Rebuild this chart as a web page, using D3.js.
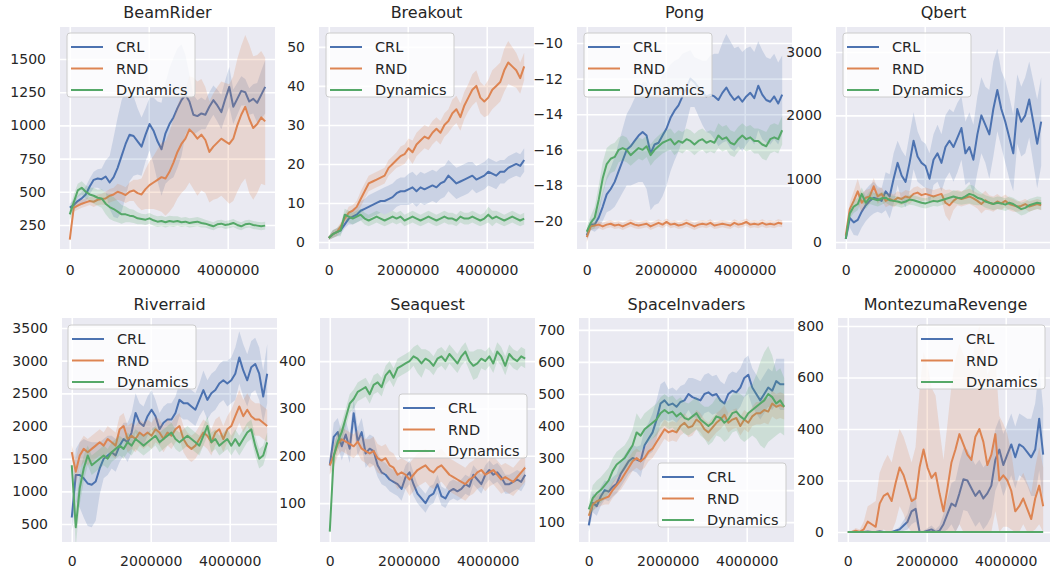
<!DOCTYPE html>
<html>
<head>
<meta charset="utf-8">
<script src="https://cdn.jsdelivr.net/npm/d3@7"></script>
<style>
  body { margin: 0; background: #fff; }
  svg { display: block; font-family: 'DejaVu Sans', sans-serif; }
</style>
</head>
<body>
<div id="chart"></div>
<script>
// series + seaborn "deep" colours
const seriesNames = ['CRL', 'RND', 'Dynamics'];
const colors = { CRL: '#4c72b0', RND: '#dd8452', Dynamics: '#55a868' };

// logged every ~101k env steps, 50 points per run
const stepSize = 101000;
const xTicks = [0, 2000000, 4000000];

// BeamRider
const beamRiderCRL = [380,400,430,450,480,540,590,600,595,615, 570,610,680,770,860,930,920,880,840,930, 1010,960,880,820,940,1010,1060,1130,1190,1230, 1180,1080,1070,1090,1080,1140,1190,1150,1100,1200, 1290,1140,1200,1260,1250,1180,1200,1170,1230,1290];
const beamRiderCRLSd = [30,40,40,50,60,60,60,70,80,120, 200,300,380,420,400,350,300,250,220,200, 200,250,300,350,380,420,450,450,420,300, 200,150,120,120,110,110,110,120,130,140, 150,130,120,110,100,100,110,150,180,200];
const beamRiderRND = [140,380,395,410,420,430,425,440,445,450, 470,480,500,490,475,500,510,490,480,520, 550,570,590,610,600,650,720,800,860,900, 970,940,900,930,890,800,840,870,900,880, 860,900,1000,1080,1140,1050,980,1010,1060,1030];
const beamRiderRNDSd = [10,30,30,30,30,30,40,40,40,50, 50,50,60,60,60,70,80,100,120,150, 180,200,230,260,280,300,330,350,370,380, 400,420,430,420,400,380,400,420,430,440, 450,470,500,520,540,560,540,520,500,480];
const beamRiderDyn = [330,420,510,530,500,480,470,455,450,410, 385,370,350,330,330,320,315,300,295,290, 300,285,275,280,270,280,275,280,270,275, 265,270,275,265,260,250,240,255,260,250, 255,265,250,240,255,260,250,245,240,245];
const beamRiderDynSd = [40,60,50,50,50,50,60,60,70,80, 90,90,80,70,60,50,50,45,40,40, 40,40,40,40,40,40,40,35,35,35, 35,35,35,35,30,30,30,30,30,30, 30,30,30,30,30,30,30,30,30,30];

// Breakout
const breakoutCRL = [1,2,2.5,3,4.5,6,6.5,7,8,8.5, 9,9.5,10,10.5,10.5,11,11.5,12.5,13,13, 13.5,14,13,14,13.5,14,14.5,14,15,15.5, 17,16,15,15.5,16,16.5,17,16,16.5,17, 18,17.5,17,18,18,19,19.5,20,19.5,21];
const breakoutCRLSd = [0.5,1,1,1,1,1.5,2,2,2.5,2.5, 3,3,3,3,3.5,3.5,3.5,3.5,3.5,3.5, 4,4,4,4,4,4,4,4,4,4, 4,4,4,4,4,4,3.5,3.5,3.5,3.5, 3.5,3.5,3.5,3,3,3,3,3,3,3];
const breakoutRND = [1,2,2.5,4,6,7.5,8,9,11,13, 15,15.5,16,16.5,17,19,20,21,22,22.5, 24,23,25,26,27,26.5,28,29,28,30, 31,33,34,32,35,37,39,40,37,36, 37,39,40,41,44,46,45,44,42,45];
const breakoutRNDSd = [0.5,1,1,1,1,1.5,1.5,1.5,2,2, 2,2,2,2,2,2,2,2,2.5,2.5, 2.5,3,3,3,3,3,3,3,3,3, 3,3.5,3.5,3.5,3.5,3.5,4,4,4,4, 4.5,5,5,5,5.5,5.5,5,4.5,4,3.5];
const breakoutDyn = [1,2,2.5,3,7,6.5,6,6.5,7,6, 5.5,6,6.5,6,5.5,6,6.5,6,6.5,5.5, 6,6.5,6,5.5,6,6.5,6,5.5,6,6.5, 6,6,5.5,6.5,6,6,6.5,6,5.5,6, 7,6,6.5,6,5.5,6,6.5,6,5.5,6];
const breakoutDynSd = [0.5,1,1,1.5,1.5,1.5,1.5,1.5,1.5,1.5, 1.5,1.5,1.5,1.5,1.5,1.5,1.5,1.5,1.5,1.5, 1.5,1.5,1.5,1.5,1.5,1.5,1.5,1.5,1.5,1.5, 1.5,1.5,1.5,1.5,1.5,1.5,1.5,1.5,1.5,1.5, 2,2,1.5,1.5,1.5,1.5,1.5,1.5,1.5,1.5];

// Pong
const pongCRL = [-20.8,-20.2,-20.2,-19.8,-19.2,-18.5,-18.2,-17.8,-17.2,-16.6, -16.0,-15.8,-15.5,-15.2,-15.0,-15.2,-16.2,-15.7,-15.6,-15.2, -14.8,-14.2,-13.8,-13.5,-13.0,-12.5,-12.0,-12.2,-12.5,-12.8, -13.0,-12.9,-13.0,-13.2,-12.8,-12.5,-12.9,-13.2,-13.0,-13.3, -13.0,-12.8,-13.1,-12.4,-12.9,-13.2,-13.3,-13.0,-13.4,-12.9];
const pongCRLSd = [0.3,0.3,0.4,0.6,0.8,1.0,1.2,1.4,1.6,1.8, 2.0,2.2,2.4,2.6,2.8,3.0,3.2,3.4,3.4,3.4, 3.2,3.0,2.8,2.6,2.4,2.0,1.6,1.4,1.6,1.8, 2.0,2.2,2.4,2.6,2.8,3.0,3.0,2.9,2.8,2.8, 2.7,2.6,2.6,2.5,2.5,2.4,2.4,2.4,2.3,2.2];
const pongRND = [-20.9,-20.3,-20.25,-20.2,-20.3,-20.2,-20.15,-20.25,-20.2,-20.3, -20.2,-20.1,-20.2,-20.25,-20.2,-20.15,-20.3,-20.2,-20.1,-20.2, -20.05,-20.2,-20.15,-20.25,-20.2,-20.1,-20.2,-20.3,-20.2,-20.15, -20.2,-20.1,-20.25,-20.2,-20.15,-20.2,-20.25,-20.1,-20.2,-20.15, -20.05,-20.2,-20.15,-20.2,-20.1,-20.2,-20.15,-20.2,-20.1,-20.15];
const pongRNDSd = [0.3,0.2,0.2,0.2,0.2,0.2,0.2,0.2,0.2,0.2, 0.2,0.2,0.2,0.2,0.2,0.2,0.2,0.2,0.2,0.2, 0.2,0.2,0.2,0.2,0.2,0.2,0.2,0.2,0.2,0.2, 0.2,0.2,0.2,0.2,0.2,0.2,0.2,0.2,0.2,0.2, 0.2,0.2,0.2,0.2,0.2,0.2,0.2,0.2,0.2,0.2];
const pongDyn = [-20.6,-20.1,-19.8,-18.8,-17.6,-16.8,-16.5,-16.4,-16.0,-15.9, -16.0,-16.3,-16.1,-15.9,-16.0,-15.8,-16.3,-16.0,-15.8,-15.6, -15.5,-15.4,-15.7,-15.5,-15.6,-15.4,-15.5,-15.7,-15.5,-15.4, -15.6,-15.5,-15.6,-15.2,-15.4,-15.3,-15.6,-15.7,-15.4,-15.2, -15.4,-15.3,-15.5,-15.5,-15.7,-15.8,-15.4,-15.3,-15.4,-14.9];
const pongDynSd = [0.3,0.4,0.6,0.8,0.9,0.9,0.8,0.8,0.7,0.7, 0.7,0.6,0.6,0.6,0.6,0.6,0.6,0.6,0.6,0.6, 0.6,0.6,0.6,0.6,0.6,0.6,0.6,0.6,0.6,0.6, 0.6,0.6,0.6,0.7,0.7,0.7,0.7,0.7,0.7,0.7, 0.7,0.7,0.7,0.7,0.8,0.8,0.8,0.8,0.8,0.8];

// Qbert
const qbertCRL = [50,380,310,350,480,580,650,700,680,650, 800,720,1000,1250,1050,950,1250,1600,1350,1250, 1200,1000,1300,1400,1250,1500,1600,1500,1650,1800, 1400,1500,1300,1700,2000,1850,1700,2100,2400,2100, 1900,1650,1400,2100,1900,2000,2250,1900,1550,1900];
const qbertCRLSd = [50,150,200,250,250,250,250,250,200,200, 300,350,400,350,400,400,450,450,400,350, 350,400,400,450,450,500,500,550,550,500, 500,550,550,600,600,600,700,750,650,600, 650,650,600,550,550,600,600,650,700,700];
const qbertRND = [100,520,650,800,620,700,720,880,720,760, 650,680,650,700,680,720,700,760,780,740, 760,740,720,740,760,620,580,650,700,680, 700,720,690,650,600,660,620,600,640,610, 650,600,580,560,570,600,560,580,600,580];
const qbertRNDSd = [20,100,150,200,150,120,120,130,120,100, 100,100,100,100,100,100,100,100,100,100, 100,100,100,100,100,200,250,150,120,120, 120,120,120,120,150,150,120,120,120,100, 100,100,100,80,80,80,80,80,80,80];
const qbertDyn = [50,450,560,600,760,620,700,680,660,690, 700,660,650,640,620,640,670,660,640,620, 610,630,650,640,660,680,700,720,700,690, 720,760,740,700,680,640,620,600,620,610, 590,620,600,560,520,540,580,600,620,610];
const qbertDynSd = [20,80,100,100,100,100,100,100,100,100, 80,80,80,80,80,80,80,80,80,80, 80,80,80,80,80,80,80,100,100,100, 120,150,150,120,100,100,100,100,100,100, 100,100,100,100,100,100,100,100,100,100];

// Riverraid
const riverraidCRL = [600,1250,1250,1200,1120,1100,1150,1350,1500,1550, 1600,1550,1700,1800,1750,1900,2200,2050,2000,2150, 2250,2150,1950,2050,2100,2100,2200,2400,2350,2350, 2300,2250,2400,2550,2400,2500,2550,2650,2700,2650, 2700,2800,3050,2850,2700,2900,2950,2800,2450,2800];
const riverraidCRLSd = [200,400,500,600,650,650,600,400,300,300, 250,250,250,250,300,300,300,300,300,300, 300,250,250,250,250,250,250,250,250,250, 250,250,250,300,300,300,300,300,300,350, 350,400,400,400,400,400,400,400,400,450];
const riverraidRND = [1600,1300,1550,1650,1600,1650,1700,1750,1700,1800, 1750,1700,1950,2000,1800,1850,1800,1900,1850,1900, 1850,1950,1900,1800,1900,1850,1950,2000,1800,1700, 1650,1700,1800,1900,1850,1750,1900,1950,1800,1950, 2000,2150,2300,2150,2250,2150,2100,2100,2050,2000];
const riverraidRNDSd = [100,200,200,200,200,200,200,200,200,200, 200,200,200,200,200,200,200,200,200,200, 200,200,200,200,200,200,200,200,200,200, 200,200,200,200,200,200,200,200,200,200, 250,250,250,250,250,250,250,250,250,250];
const riverraidDyn = [1400,450,1050,1350,1550,1400,1450,1500,1550,1500, 1600,1650,1700,1650,1750,1700,1800,1750,1700,1750, 1800,1850,1750,1800,1850,1900,1800,1750,1800,1850, 1800,1750,1700,1850,2000,1750,1800,1700,1750,1800, 1700,1800,1700,1800,1900,1950,1700,1500,1550,1750];
const riverraidDynSd = [100,300,250,200,150,150,150,150,150,150, 150,150,150,150,150,150,150,150,150,150, 150,150,150,150,150,150,150,150,150,150, 150,150,150,150,150,150,150,150,150,150, 150,150,150,150,150,150,150,150,150,150];

// Seaquest
const seaquestCRL = [180,240,250,220,245,215,290,230,250,205, 215,210,180,165,160,150,145,140,130,155, 165,140,120,110,100,115,120,140,115,110, 125,130,125,130,140,135,160,150,140,160, 170,160,165,155,140,140,145,150,145,160];
const seaquestCRLSd = [20,30,30,30,30,30,30,30,30,30, 30,30,25,25,25,25,25,25,25,25, 25,25,20,20,20,20,20,20,20,20, 20,20,20,20,20,20,20,20,20,20, 20,20,20,20,20,20,20,20,20,20];
const seaquestRND = [180,200,225,235,230,225,220,230,215,210, 205,210,195,190,195,180,175,160,165,160, 150,160,170,175,180,170,165,175,180,170, 160,155,150,145,140,150,155,165,170,160, 165,170,160,150,155,150,145,155,165,175];
const seaquestRNDSd = [20,25,25,25,25,25,25,25,25,25, 30,30,30,30,30,30,30,30,30,30, 35,35,35,35,35,35,35,35,35,35, 35,35,35,35,35,35,35,35,35,35, 30,30,30,30,30,30,30,30,30,30];
const seaquestDyn = [40,200,230,250,280,310,320,335,340,345, 330,350,355,345,370,380,365,385,390,395, 400,410,405,395,405,400,390,405,410,400, 415,405,395,410,420,400,390,395,405,400, 410,395,420,410,390,415,405,400,410,405];
const seaquestDynSd = [5,20,20,20,20,20,20,20,20,20, 20,20,20,20,20,20,20,20,20,20, 20,20,30,30,20,20,20,20,20,20, 20,20,20,20,20,20,30,30,20,20, 20,20,20,20,20,20,20,20,20,20];

// SpaceInvaders
const spaceInvCRL = [90,160,150,180,200,195,210,220,250,270, 290,300,295,290,340,360,380,420,470,480, 465,470,460,475,480,500,490,485,480,500, 505,495,500,480,470,500,510,505,520,550, 560,520,500,480,500,520,510,540,530,530];
const spaceInvCRLSd = [20,30,30,30,30,30,30,30,40,40, 40,40,40,50,50,50,60,60,60,60, 50,50,50,50,50,50,60,60,60,60, 60,60,60,60,60,60,60,60,60,60, 60,60,60,60,60,60,60,70,80,80];
const spaceInvRND = [120,155,165,170,175,180,200,215,230,250, 270,290,300,290,300,320,330,350,370,390, 380,385,380,400,410,395,400,420,410,390, 380,395,410,420,435,410,420,425,400,420, 410,430,440,440,450,445,470,460,465,460];
const spaceInvRNDSd = [20,20,20,20,20,25,25,25,30,30, 30,30,30,30,30,30,30,30,30,30, 30,30,30,30,30,30,30,30,30,30, 30,30,30,30,30,30,30,30,30,30, 30,30,35,35,40,40,40,40,40,40];
const spaceInvDyn = [140,175,190,200,215,230,260,280,290,300, 320,340,380,370,390,400,410,420,440,450, 440,445,430,440,425,420,430,440,420,410, 400,410,430,425,410,420,440,445,430,420, 440,450,460,470,480,500,490,470,480,460];
const spaceInvDynSd = [20,40,40,40,40,40,40,40,40,40, 40,50,60,50,50,50,50,50,50,50, 50,50,50,50,50,50,50,50,50,50, 60,60,60,60,60,60,60,60,70,70, 80,80,100,130,150,150,130,100,100,90];

// MontezumaRevenge
const montezumaCRL = [0,0,0,0,0,2,0,0,3,0, 0,0,5,10,25,40,80,90,0,0, 5,10,0,5,30,70,110,100,150,205, 200,170,140,160,130,150,180,280,320,260, 300,340,290,340,330,310,290,320,440,300];
const montezumaCRLSd = [0,0,0,0,0,2,0,0,3,0, 0,0,5,10,20,30,50,50,5,5, 10,15,10,20,40,60,80,100,120,120, 120,120,120,120,120,120,120,120,120,120, 120,120,120,120,120,130,150,180,200,180];
const montezumaRND = [0,0,5,0,10,40,30,20,110,140, 150,120,190,250,220,170,120,130,250,320, 250,210,230,150,80,170,270,320,380,340, 300,280,370,400,350,260,300,380,200,220, 200,160,80,100,130,90,50,130,180,100];
const montezumaRNDSd = [0,5,10,10,30,60,80,100,120,130, 150,150,150,150,150,150,150,200,300,380, 400,350,300,250,200,250,300,350,350,350, 350,350,380,400,380,350,350,300,250,200, 180,150,120,100,100,100,100,120,150,150];
const montezumaDyn = [0,0,0,0,0,0,0,0,0,0, 0,0,0,0,0,0,0,0,0,0, 0,0,0,0,0,0,0,0,0,0, 0,0,0,0,0,0,0,0,0,0, 0,0,0,0,0,0,0,0,0,0];
const montezumaDynSd = [0,0,0,0,0,0,0,0,0,0, 0,0,0,0,0,0,0,0,0,0, 0,0,0,0,0,0,0,0,0,0, 0,0,0,0,0,0,0,0,0,0, 0,0,0,0,0,0,0,0,0,0];

const panels = [
  { title: 'BeamRider', row: 0, col: 0, yDomain: [69, 1741], yTicks: [250, 500, 750, 1000, 1250, 1500], legend: [7, 6],
    runs: { CRL: [beamRiderCRL, beamRiderCRLSd], RND: [beamRiderRND, beamRiderRNDSd], Dynamics: [beamRiderDyn, beamRiderDynSd] } },
  { title: 'Breakout', row: 0, col: 1, yDomain: [-1.8, 55.1], yTicks: [0, 10, 20, 30, 40, 50], legend: [7, 6],
    runs: { CRL: [breakoutCRL, breakoutCRLSd], RND: [breakoutRND, breakoutRNDSd], Dynamics: [breakoutDyn, breakoutDynSd] } },
  { title: 'Pong', row: 0, col: 2, yDomain: [-21.57, -9.1], yTicks: [-20, -18, -16, -14, -12, -10], legend: [7, 6],
    runs: { CRL: [pongCRL, pongCRLSd], RND: [pongRND, pongRNDSd], Dynamics: [pongDyn, pongDynSd] } },
  { title: 'Qbert', row: 0, col: 3, yDomain: [-110, 3395], yTicks: [0, 1000, 2000, 3000], legend: [7, 6],
    runs: { CRL: [qbertCRL, qbertCRLSd], RND: [qbertRND, qbertRNDSd], Dynamics: [qbertDyn, qbertDynSd] } },
  { title: 'Riverraid', row: 1, col: 0, yDomain: [225, 3653], yTicks: [500, 1000, 1500, 2000, 2500, 3000, 3500], legend: [6, 7],
    runs: { CRL: [riverraidCRL, riverraidCRLSd], RND: [riverraidRND, riverraidRNDSd], Dynamics: [riverraidDyn, riverraidDynSd] } },
  { title: 'Seaquest', row: 1, col: 1, yDomain: [18, 491], yTicks: [100, 200, 300, 400], legend: [79, 76],
    runs: { CRL: [seaquestCRL, seaquestCRLSd], RND: [seaquestRND, seaquestRNDSd], Dynamics: [seaquestDyn, seaquestDynSd] } },
  { title: 'SpaceInvaders', row: 1, col: 2, yDomain: [38, 737], yTicks: [100, 200, 300, 400, 500, 600, 700], legend: [79, 145],
    runs: { CRL: [spaceInvCRL, spaceInvCRLSd], RND: [spaceInvRND, spaceInvRNDSd], Dynamics: [spaceInvDyn, spaceInvDynSd] } },
  { title: 'MontezumaRevenge', row: 1, col: 3, yDomain: [-39, 831], yTicks: [0, 200, 400, 600, 800], legend: [79, 7], floor: 0,
    runs: { CRL: [montezumaCRL, montezumaCRLSd], RND: [montezumaRND, montezumaRNDSd], Dynamics: [montezumaDyn, montezumaDynSd] } }
];

const width = 1050, height = 569;
const axW = 215;
const colX = [[60, 319, 577, 836], [62, 320, 579, 838]];
const rowY = [27, 318];
const rowH = [222, 224];
const xPad = [16, 14];
const titleOff = [9, 8];
const textColor = '#262626';

const svg = d3.select('#chart').append('svg')
  .attr('width', width)
  .attr('height', height);

const defs = svg.append('defs');

panels.forEach((p, k) => {
  const left = colX[p.row][p.col];
  const top = rowY[p.row];
  const h = rowH[p.row];

  const x = d3.scaleLinear().domain([-247500, 5197500]).range([0, axW]);
  const y = d3.scaleLinear().domain(p.yDomain).range([h, 0]);

  const g = svg.append('g')
    .attr('transform', `translate(${left},${top})`);

  defs.append('clipPath').attr('id', 'clip' + k)
    .append('rect').attr('width', axW).attr('height', h);

  g.append('rect')
    .attr('width', axW)
    .attr('height', h)
    .attr('fill', '#eaeaf2');

  // axes double as white grid
  const yAxis = d3.axisLeft(y)
    .tickValues(p.yTicks)
    .tickSize(-axW)
    .tickPadding(14)
    .tickFormat(d3.format('d'));

  const xAxis = d3.axisBottom(x)
    .tickValues(xTicks)
    .tickSize(-h)
    .tickPadding(xPad[p.row])
    .tickFormat(d3.format('d'));

  const gy = g.append('g').call(yAxis);
  const gx = g.append('g').attr('transform', `translate(0,${h})`).call(xAxis);

  [gx, gy].forEach(ax => {
    ax.attr('font-family', "'DejaVu Sans', sans-serif").attr('font-size', 14);
    ax.select('.domain').remove();
    ax.selectAll('.tick line').attr('stroke', '#ffffff').attr('stroke-width', 1.6);
    ax.selectAll('.tick text').attr('fill', textColor);
  });

  // title
  g.append('text')
    .attr('x', axW / 2)
    .attr('y', -titleOff[p.row])
    .attr('text-anchor', 'middle')
    .attr('font-size', 16)
    .attr('fill', textColor)
    .text(p.title);

  const plot = g.append('g').attr('clip-path', `url(#clip${k})`);

  seriesNames.forEach(name => {
    const [mean, sd] = p.runs[name];
    const pts = mean.map((m, i) => ({ step: i * stepSize, m: m, s: sd[i] }));

    const band = d3.area()
      .x(d => x(d.step))
      .y0(d => y(p.floor !== undefined ? Math.max(p.floor, d.m - d.s) : d.m - d.s))
      .y1(d => y(d.m + d.s));

    const line = d3.line()
      .x(d => x(d.step))
      .y(d => y(d.m));

    plot.append('path')
      .datum(pts)
      .attr('d', band)
      .attr('fill', colors[name])
      .attr('fill-opacity', 0.2)
      .attr('stroke', 'none');

    plot.append('path')
      .datum(pts)
      .attr('d', line)
      .attr('fill', 'none')
      .attr('stroke', colors[name])
      .attr('stroke-width', 2)
      .attr('stroke-linejoin', 'round');
  });

  // legend
  const lg = g.append('g')
    .attr('transform', `translate(${p.legend[0]},${p.legend[1]})`);

  lg.append('rect')
    .attr('width', 128)
    .attr('height', 64)
    .attr('rx', 3)
    .attr('fill', '#ffffff')
    .attr('fill-opacity', 0.8)
    .attr('stroke', '#cccccc')
    .attr('stroke-width', 1);

  seriesNames.forEach((name, j) => {
    const ly = 14 + j * 21.5;
    lg.append('line')
      .attr('x1', 4).attr('x2', 36)
      .attr('y1', ly).attr('y2', ly)
      .attr('stroke', colors[name])
      .attr('stroke-width', 2);
    lg.append('text')
      .attr('x', 49)
      .attr('y', ly)
      .attr('dy', '0.35em')
      .attr('font-size', 14.5)
      .attr('fill', textColor)
      .text(name);
  });
});
</script>
</body>
</html>
